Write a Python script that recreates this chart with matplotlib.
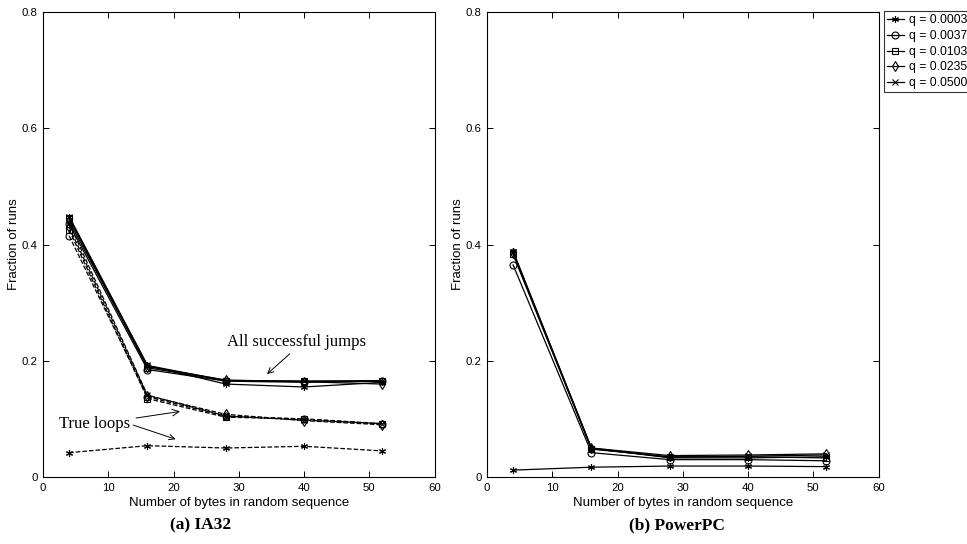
import numpy as np
import matplotlib
matplotlib.use('Agg')
import matplotlib.pyplot as plt
from matplotlib.lines import Line2D

plt.rcParams['font.family'] = ['Liberation Sans', 'DejaVu Sans']

nbytes = [4, 16, 28, 40, 52]
q_labels = ['q = 0.0003', 'q = 0.0037', 'q = 0.0103', 'q = 0.0235', 'q = 0.0500']
markers = [(6, 2, 0), 'o', 's', 'd', 'x']

# IA32: all successful jumps (solid) and true loops (dashed)
ia32_jumps = [
    [0.447, 0.192, 0.160, 0.155, 0.163],
    [0.435, 0.185, 0.165, 0.163, 0.165],
    [0.445, 0.188, 0.166, 0.165, 0.166],
    [0.440, 0.190, 0.167, 0.164, 0.160],
    [0.448, 0.192, 0.166, 0.165, 0.165],
]
ia32_loops = [
    [0.042, 0.054, 0.050, 0.053, 0.045],
    [0.415, 0.138, 0.105, 0.100, 0.092],
    [0.425, 0.135, 0.103, 0.100, 0.091],
    [0.430, 0.140, 0.108, 0.097, 0.090],
    [0.437, 0.141, 0.105, 0.098, 0.092],
]

# PowerPC
ppc_jumps = [
    [0.389, 0.050, 0.033, 0.033, 0.035],
    [0.365, 0.042, 0.030, 0.030, 0.028],
    [0.383, 0.048, 0.035, 0.035, 0.033],
    [0.385, 0.050, 0.037, 0.038, 0.040],
    [0.387, 0.049, 0.034, 0.036, 0.038],
]
ppc_low = [0.012, 0.017, 0.019, 0.019, 0.018]

fig = plt.figure(figsize=(9.67, 5.44), dpi=100)
ax1 = fig.add_axes([0.0445, 0.123, 0.405, 0.855])
ax2 = fig.add_axes([0.5036, 0.123, 0.405, 0.855])

kw = dict(color='k', lw=0.9, ms=5, mfc='none', mew=0.8)

for i in range(5):
    ax1.plot(nbytes, ia32_jumps[i], ls='-', marker=markers[i], **kw)
    ax1.plot(nbytes, ia32_loops[i], ls='--', marker=markers[i], **kw)
    ax2.plot(nbytes, ppc_jumps[i], ls='-', marker=markers[i], **kw)
ax2.plot(nbytes, ppc_low, ls='-', marker=markers[0], **kw)

for ax in (ax1, ax2):
    ax.set_xlim(0, 60)
    ax.set_ylim(0, 0.8)
    ax.set_xticks([0, 10, 20, 30, 40, 50, 60])
    ax.set_yticks([0, 0.2, 0.4, 0.6, 0.8])
    ax.set_yticklabels(['0', '0.2', '0.4', '0.6', '0.8'])
    ax.tick_params(direction='in', top=True, right=True, labelsize=8.2,
                   length=4, width=0.7, pad=4)
    for s in ax.spines.values():
        s.set_linewidth(0.8)
    ax.set_xlabel('Number of bytes in random sequence', fontsize=9.5, labelpad=3)
    ax.set_ylabel('Fraction of runs', fontsize=9.5, labelpad=1)

serif = ['Liberation Serif', 'DejaVu Serif']
ax1.text(38.9, 0.232, 'All successful jumps', ha='center', va='center',
         fontsize=12, family=serif)
ax1.annotate('', xy=(34, 0.174), xytext=(38.1, 0.215),
             arrowprops=dict(arrowstyle='->', color='k', lw=0.7))
ax1.annotate('True loops', xy=(21.4, 0.1136), xytext=(13.4, 0.091),
             ha='right', va='center', fontsize=12, family=serif,
             arrowprops=dict(arrowstyle='->', color='k', lw=0.7))
ax1.annotate('', xy=(20.7, 0.0637), xytext=(13.4, 0.091),
             arrowprops=dict(arrowstyle='->', color='k', lw=0.7))

fig.text(0.207, 0.035, '(a) IA32', ha='center', va='center', fontsize=12.5,
         fontweight='bold', family=serif)
fig.text(0.700, 0.035, '(b) PowerPC', ha='center', va='center', fontsize=12.5,
         fontweight='bold', family=serif)

handles = [Line2D([], [], ls='-', marker=markers[i], **kw) for i in range(5)]
leg = fig.legend(handles, q_labels, loc='upper left', bbox_to_anchor=(0.914, 0.979),
                 fontsize=8.8, frameon=True, fancybox=False, handlelength=1.4,
                 handletextpad=0.4, borderpad=0.25, labelspacing=0.3,
                 borderaxespad=0)
leg.get_frame().set_edgecolor('k')
leg.get_frame().set_linewidth(0.8)

plt.savefig('out.png', dpi=100)
